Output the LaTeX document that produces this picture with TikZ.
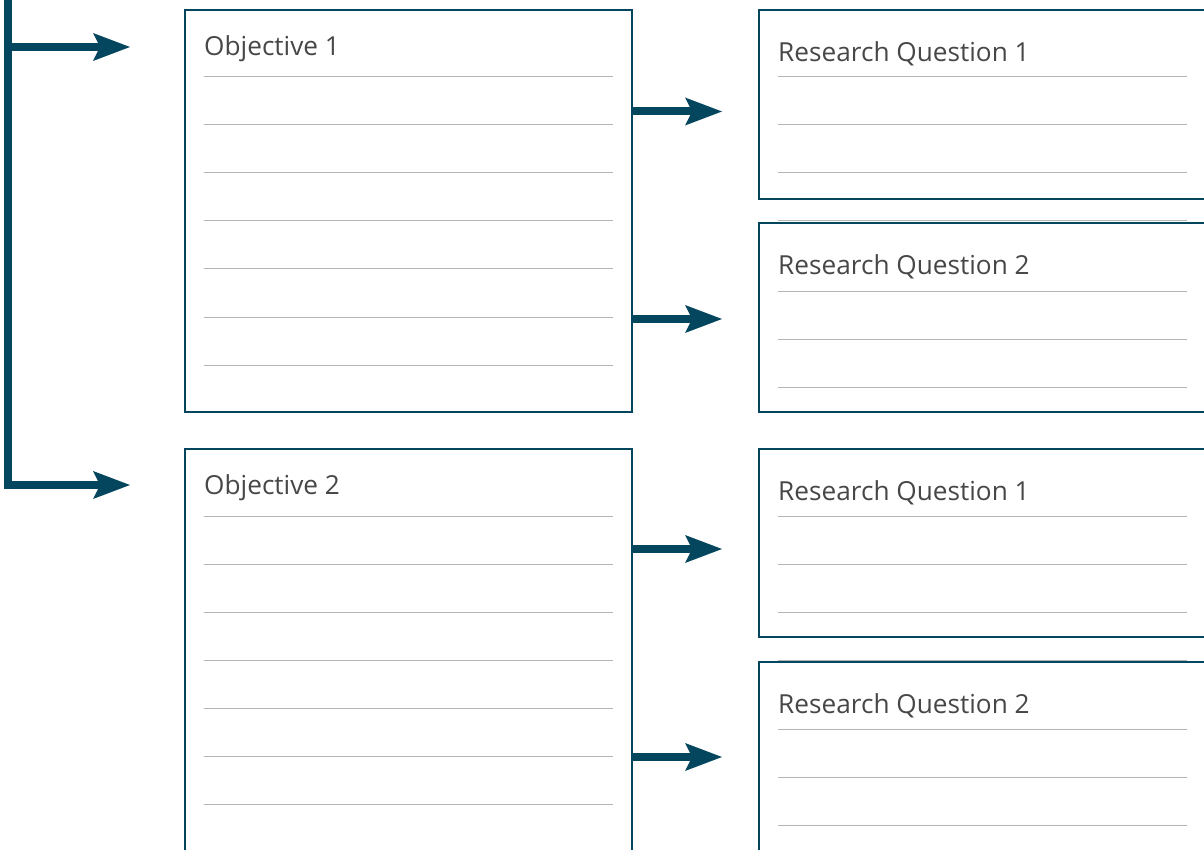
\documentclass[tikz,border=0pt]{standalone}
\usepackage{fontspec}
\setmainfont{Open Sans}
\usetikzlibrary{arrows.meta}
\definecolor{boxc}{HTML}{05465F}
\definecolor{rulec}{HTML}{B4B4B4}
\definecolor{txtc}{HTML}{474747}
\begin{document}
\begin{tikzpicture}[x=1pt,y=-1pt,
  box/.style={draw=boxc, line width=2.6pt, anchor=north west, inner sep=0pt, outer sep=0pt},
  rule/.style={draw=rulec, line width=1pt},
  lbl/.style={anchor=base west, inner sep=0pt, text=txtc, font=\fontsize{26.2}{30}\selectfont},
  flow/.style={draw=boxc, line width=8pt, line join=miter,
    -{Stealth[length=37pt,width=28pt,inset=7pt,line width=0pt]}}]
\useasboundingbox (0,0) rectangle (1204,850);
\clip (0,0) rectangle (1204,850);

% boxes
\node[box, minimum width=447pt, minimum height=402pt] (o1) at (185,10) {};
\node[box, minimum width=447pt, minimum height=430pt] (o2) at (185,449) {};
\node[box, minimum width=500pt, minimum height=189pt] (q1) at (759,10) {};
\node[box, minimum width=500pt, minimum height=189pt] (q2) at (759,223) {};
\node[box, minimum width=500pt, minimum height=188pt] (q3) at (759,449) {};
\node[box, minimum width=500pt, minimum height=220pt] (q4) at (759,662) {};

% ruled lines
\foreach \y in {77,125,173,221,269,317,365,516,564,612,660,708,756,804}
  \draw[rule] (204,\y) -- (613,\y);
\foreach \y in {77,125,173,221,291,339,387,516,564,612,660,729,777,825}
  \draw[rule] (778,\y) -- (1187,\y);

% labels
\node[lbl] (l1) at (204,55.5) {Objective 1};
\node[lbl] (l2) at (204,494.5) {Objective 2};
\node[lbl] (l3) at (778,61.7) {Research Question 1};
\node[lbl] (l4) at (778,274.7) {Research Question 2};
\node[lbl] (l5) at (778,500.7) {Research Question 1};
\node[lbl] (l6) at (778,713.7) {Research Question 2};

% connectors
\coordinate (top) at (8,-10);
\coordinate (s1) at (8,47);
\coordinate (e1) at (130,47);
\coordinate (e2) at (130,485);
\coordinate (a1) at (722,111.5);
\coordinate (a2) at (722,319);
\coordinate (a3) at (722,549);
\coordinate (a4) at (722,757);

\draw[flow] (top) |- (e2);
\draw[flow] (s1) -- (e1);
\draw[flow] (o1.east |- a1) -- (a1);
\draw[flow] (o1.east |- a2) -- (a2);
\draw[flow] (o2.east |- a3) -- (a3);
\draw[flow] (o2.east |- a4) -- (a4);
\end{tikzpicture}
\end{document}
